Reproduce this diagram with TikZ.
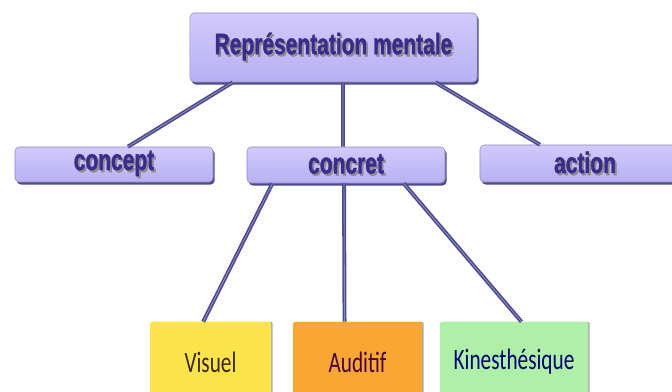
\documentclass[tikz,border=0pt]{standalone}
\usepackage{fontspec}
\usetikzlibrary{calc,shadows}
\newfontfamily\boxfont[FakeStretch=0.71,FakeBold=1.3]{Liberation Sans}
\newfontfamily\leaffont[FakeStretch=0.72]{Carlito}
\definecolor{lavtop}{HTML}{D1CAFB}
\definecolor{lavbot}{HTML}{B9B0F3}
\definecolor{inkblue}{HTML}{3A2C8C}
\definecolor{linkblue}{HTML}{4B4A8C}
\definecolor{linklight}{HTML}{8E8BC4}
\definecolor{visyellow}{HTML}{FDE44C}
\definecolor{audorange}{HTML}{F8A634}
\definecolor{kingreen}{HTML}{AFF0A9}
% label with a soft drop shadow behind the letters
\newcommand\shadowlabel[1]{\makebox[0pt][l]{\hspace{1.3pt}\raisebox{-1.5pt}{\color{black!45}#1}}#1}
\tikzset{
  headbox/.style={rounded corners=3pt, top color=lavtop, bottom color=lavbot,
    draw=lavbot!80!black, line width=0.4pt,
    drop shadow={shadow xshift=1.2pt, shadow yshift=-1.8pt, fill=black!65!blue, opacity=0.7},
    text=inkblue, font=\boxfont\bfseries\fontsize{21}{24}\selectfont, inner sep=0pt},
  leafbox/.style={rounded corners=1pt, draw=none,
    drop shadow={shadow xshift=1.2pt, shadow yshift=0pt, fill=black!55, opacity=0.6},
    font=\leaffont\fontsize{21}{24}\selectfont, inner sep=0pt,
    minimum height=2cm},
  link/.style={draw=linkblue, line width=1.1pt, double=linklight, double distance=0.6pt}
}
\begin{document}
\begin{tikzpicture}[x=0.025cm, y=-0.025cm]
\useasboundingbox (0,0) rectangle (672,392);
\clip (0,0) rectangle (672,392);
\fill[white] (0,0) rectangle (672,392);

% top level
\node[headbox, minimum width=7.175cm, minimum height=1.725cm] (rep) at (333.5,47.5) {\shadowlabel{Représentation mentale}};

% second level
\node[headbox, minimum width=4.95cm, minimum height=0.875cm] (concept) at (114,164.5) {\shadowlabel{concept}};
\node[headbox, minimum width=4.95cm, minimum height=0.9cm] (concret) at (346,165) {\shadowlabel{concret}};
\node[headbox, minimum width=5.25cm, minimum height=0.925cm] (action) at (585,163.5) {\shadowlabel{action}};

% third level
\node[leafbox, fill=visyellow, text=black!70!brown, minimum width=3.025cm] (visuel) at (210.5,362) {Visuel\hspace{0.5cm}};
\node[leafbox, fill=audorange, text=violet!55!black, minimum width=3.225cm] (auditif) at (357.5,362) {Auditif};
\node[leafbox, fill=kingreen, text=blue!45!black, minimum width=3.7cm] (kines) at (514,362) {Kinesthésique};

% links
\draw[link] ($(rep.south west)!0.15!(rep.south east)$) -- ($(concept.north west)!0.57!(concept.north east)$);
\draw[link] ($(rep.south west)!0.533!(rep.south east)$) -- ($(concret.north west)!0.485!(concret.north east)$);
\draw[link] ($(rep.south west)!0.854!(rep.south east)$) -- ($(action.north west)!0.286!(action.north east)$);
\draw[link] ($(concret.south west)!0.13!(concret.south east)$) -- ($(visuel.north west)!0.44!(visuel.north east)$);
\draw[link] ($(concret.south west)!0.49!(concret.south east)$) -- ($(auditif.north west)!0.40!(auditif.north east)$);
\draw[link] ($(concret.south west)!0.79!(concret.south east)$) -- ($(kines.north west)!0.55!(kines.north east)$);
\end{tikzpicture}
\end{document}
